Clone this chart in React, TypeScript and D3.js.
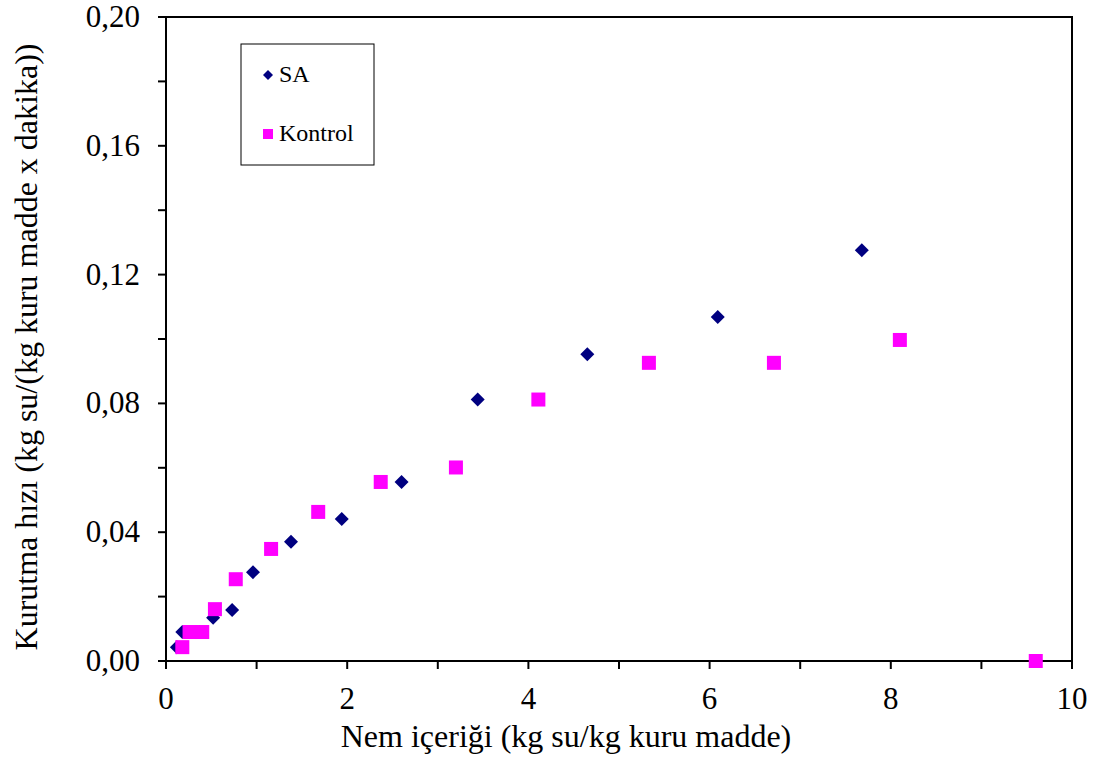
import React from "react";
import * as d3 from "d3";

const saX = [0.12, 0.18, 0.37, 0.52, 0.73, 0.96, 1.38, 1.94, 2.6, 3.44, 4.65, 6.09, 7.68];
const saY = [0.0043, 0.009, 0.0090, 0.0134, 0.0158, 0.0276, 0.037, 0.0441, 0.0556, 0.0812, 0.0953, 0.1068, 0.1276];
const kontrolX = [0.18, 0.26, 0.4, 0.54, 0.77, 1.16, 1.68, 2.37, 3.2, 4.11, 5.33, 6.71, 8.1, 9.6];
const kontrolY = [0.0043, 0.009, 0.009, 0.0161, 0.0254, 0.0348, 0.0463, 0.0556, 0.0601, 0.0812, 0.0926, 0.0926, 0.0997, 0.0];
const xTicks = [0, 1, 2, 3, 4, 5, 6, 7, 8, 9, 10];
const xLabels = [0, 2, 4, 6, 8, 10];
const yTicks = [0, 0.02, 0.04, 0.06, 0.08, 0.1, 0.12, 0.14, 0.16, 0.18, 0.2];
const yLabels = [0, 0.04, 0.08, 0.12, 0.16, 0.2];
const seriesNames = ["SA", "Kontrol"];

const W = 1100, H = 769;
const left = 166, right = 1072, top = 17, bottom = 661;
const font = "'Liberation Serif', 'Times New Roman', serif";
const ts = (size: number) => ({ fontFamily: font, fontSize: `${size}px` });

export default function App() {
  const x = d3.scaleLinear().domain([0, 10]).range([left, right]);
  const y = d3.scaleLinear().domain([0, 0.2]).range([bottom, top]);
  const fmtY = (v: number) => v.toFixed(2).replace(".", ",");
  const diamond = (cx: number, cy: number, r = 7) =>
    `M${cx},${cy - r}L${cx + r},${cy}L${cx},${cy + r}L${cx - r},${cy}Z`;
  const sq = 14;
  return (
    <svg width={W} height={H} style={{ position: "absolute", left: 0, top: 0, background: "#fff" }}>
      <rect x={0} y={0} width={W} height={H} fill="#fff" />
      <rect x={left} y={top} width={right - left} height={bottom - top} fill="none" stroke="#000" strokeWidth={2} />
      {xTicks.map((t) => (
        <line key={"xt" + t} x1={x(t)} x2={x(t)} y1={bottom} y2={bottom + 8} stroke="#000" strokeWidth={2} />
      ))}
      {yTicks.map((t) => (
        <line key={"yt" + t} x1={left - 8} x2={left} y1={y(t)} y2={y(t)} stroke="#000" strokeWidth={2} />
      ))}
      {xLabels.map((t) => (
        <text key={"xl" + t} x={x(t)} y={709} textAnchor="middle" style={ts(31)}>
          {t}
        </text>
      ))}
      {yLabels.map((t) => (
        <text key={"yl" + t} x={140} y={y(t) + 10} textAnchor="end" style={ts(31)}>
          {fmtY(t)}
        </text>
      ))}
      <text x={566} y={747} textAnchor="middle" style={ts(32)}>
        Nem içeriği (kg su/kg kuru madde)
      </text>
      <text
        transform={`translate(37, 347) rotate(-90)`}
        textAnchor="middle"
        style={ts(32)}
      >
        Kurutma hızı (kg su/(kg kuru madde x dakika))
      </text>
      {saX.map((v, i) => (
        <path key={"sa" + i} d={diamond(x(v), y(saY[i]))} fill="#000080" />
      ))}
      {kontrolX.map((v, i) => (
        <rect key={"k" + i} x={x(v) - sq / 2} y={y(kontrolY[i]) - sq / 2} width={sq} height={sq} fill="#FF00FF" />
      ))}
      <rect x={241} y={44} width={133} height={121} fill="#fff" stroke="#000" strokeWidth={1} />
      <path d={diamond(268, 75, 5)} fill="#000080" />
      <text x={279} y={82} style={ts(24)}>{seriesNames[0]}</text>
      <rect x={263} y={129} width={10} height={10} fill="#FF00FF" />
      <text x={279} y={141} style={ts(24)}>{seriesNames[1]}</text>
    </svg>
  );
}
